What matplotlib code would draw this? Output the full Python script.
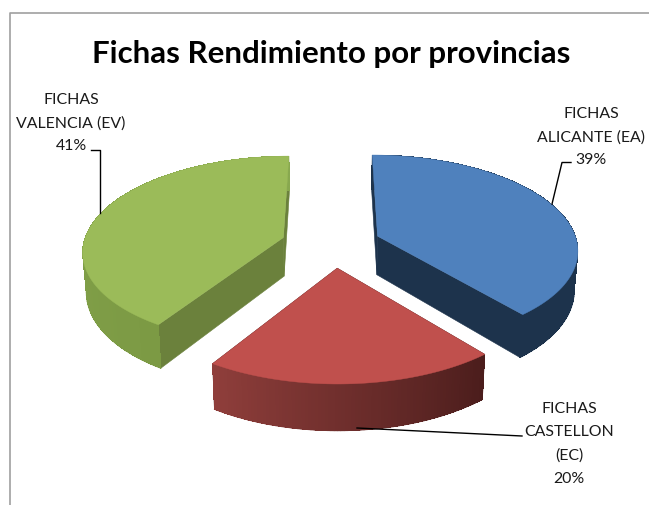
import numpy as np
import matplotlib
matplotlib.use("Agg")
import matplotlib.pyplot as plt

plt.rcParams["font.family"] = ["Lato", "DejaVu Sans"]

title = "Fichas Rendimiento por provincias"
values = [39, 20, 41]
labels = [["FICHAS", "ALICANTE (EA)", "39%"],
          ["FICHAS", "CASTELLON", "(EC)", "20%"],
          ["FICHAS", "VALENCIA (EV)", "41%"]]
top_colors = ["#4f81bd", "#c0504d", "#9bbb59"]
wall_colors = ["#1d334c", "#4b1d1c", "#6b813c"]
# rim colour at the start and end angle of each slice
rim_start = ["#1d334c", "#4b1d1c", "#7c9a44"]
rim_end = ["#1d334c", "#8f3e3b", "#88a84f"]

# label anchor (x centre, first line y) and leader line, in image pixels
label_x = [591, 569, 71]
label_y = [114, 409, 100]
line_gap = 23.2
leaders = [([552, 562, 571], [205, 163.5, 163.5]),
           ([357, 522], [429, 437]),
           ([100, 100, 91], [214, 151, 151])]

# fake 3D camera: perspective on the tilted disc
cx, cy = 331, 245
a, b = 200, 93.7
persp = 0.131
explode = 0.25
depth = 39
shrink = 0.985
nudge = [0, 3, 0]  # red slice sits a little right of the model


def project(theta, r, mid):
    # theta clockwise from 12 o'clock, slice pushed out along its middle angle
    X = r * np.sin(theta) + explode * np.sin(mid)
    V = r * np.cos(theta) + explode * np.cos(mid)
    s = 1 / (1 + persp * V)
    return cx + a * X * s, cy - b * V * s, s


def lower(x, y, s):
    return cx + (x - cx) * shrink, y + depth * s


fig = plt.figure(figsize=(6.49, 5.06), dpi=100)
ax = fig.add_axes([0, 0, 1, 1])
ax.set_xlim(0, 649)
ax.set_ylim(506, 0)
ax.axis("off")

# chart frame, the right and bottom edge are cropped in the picture
ax.plot([10, 10, 649], [506, 13.5, 13.5], color="#a0a0a0", lw=1.2)

edges = np.cumsum([0] + values) / sum(values) * 2 * np.pi
for i in range(len(values)):
    t0, t1 = edges[i], edges[i + 1]
    mid = (t0 + t1) / 2
    ts = np.linspace(t0, t1, 90)
    ax_, ay_, as_ = project(0, 0, mid)
    ax_ += nudge[i]
    apex_bx, apex_by = lower(ax_, ay_, as_)

    # the two cut faces
    for t in (t0, t1):
        x, y, s = project(t, 1, mid)
        x += nudge[i]
        bx, by = lower(x, y, s)
        ax.fill([ax_, x, bx, apex_bx], [ay_, y, by, apex_by], color=wall_colors[i], lw=0.4, zorder=2)

    # outer rim, back to front. no antialiasing or the quads show as stripes,
    # the lower edge gets a smooth line on top instead
    c0 = np.array(matplotlib.colors.to_rgb(rim_start[i]))
    c1 = np.array(matplotlib.colors.to_rgb(rim_end[i]))
    order = range(len(ts) - 1)
    if i == 2:
        order = reversed(list(order))
    for j in order:
        x0, y0, s0 = project(ts[j], 1, mid)
        x1, y1, s1 = project(ts[j + 1], 1, mid)
        x0 += nudge[i]
        x1 += nudge[i]
        bx0, by0 = lower(x0, y0, s0)
        bx1, by1 = lower(x1, y1, s1)
        col = c0 + (c1 - c0) * j / (len(ts) - 2)
        ax.fill([x0, x1, bx1, bx0], [y0, y1, by1, by0], color=col, lw=0, antialiased=False, zorder=3)
        ax.plot([bx0, bx1], [by0, by1], color=col, lw=0.8, solid_capstyle="round", zorder=3)

    # top face
    px, py, _ = project(ts, 1, mid)
    ax.fill(np.r_[ax_, px + nudge[i]], np.r_[ay_, py], color=top_colors[i], lw=0.3, zorder=4)

    # labels
    for n, line in enumerate(labels[i]):
        ax.text(label_x[i], label_y[i] + n * line_gap, line, ha="center", va="center",
                fontsize=11.4, color="#1a1a1a", zorder=6)
    ax.plot(leaders[i][0], leaders[i][1], color="black", lw=1, zorder=5)

ax.text(331, 54, title, ha="center", va="center", fontsize=22.5, fontweight="bold", color="black")

fig.savefig("out.png", dpi=100)
